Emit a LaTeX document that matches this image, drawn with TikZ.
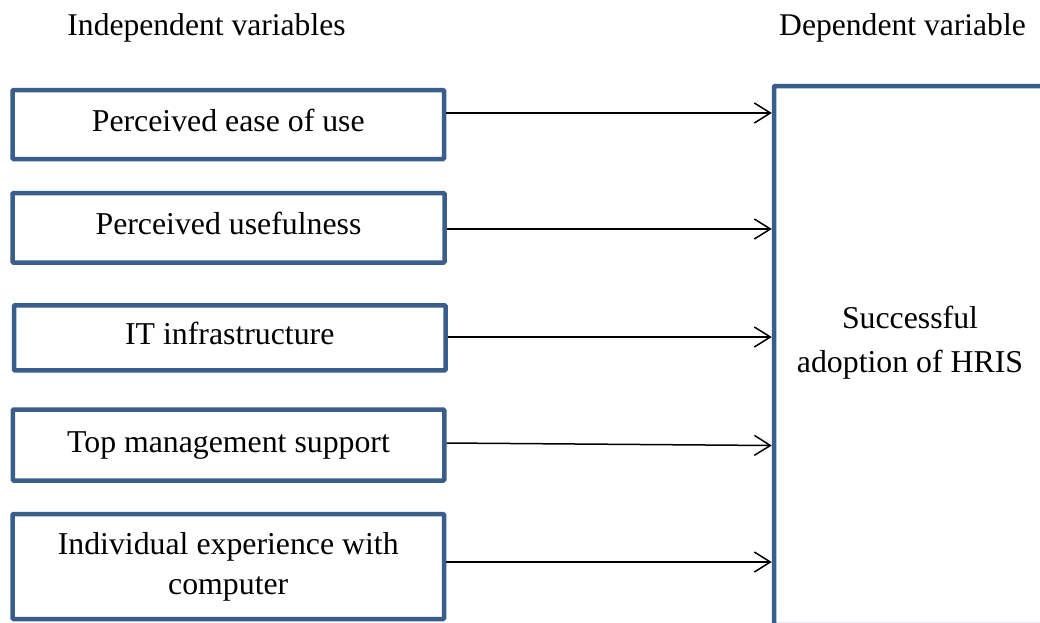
\documentclass[tikz,border=0pt]{standalone}
\usepackage{fontspec}
\setmainfont{Liberation Serif}
\usetikzlibrary{arrows.meta}
\definecolor{boxblue}{RGB}{58,94,140}
\tikzset{
  lbox/.style={draw=boxblue, line width=4.5pt, rounded corners=1pt, fill=white,
    inner sep=0pt, font=\fontsize{31.8}{40}\selectfont, align=center},
  single/.style={text height=21.8pt, text depth=7.8pt},
  head/.style={anchor=base, inner sep=0pt, font=\fontsize{31.6}{40}\selectfont},
  arr/.style={draw=black, line width=1.5pt, -{Straight Barb[length=16pt,width=20pt,line width=1.5pt]}}
}
\begin{document}
\begin{tikzpicture}[x=1pt,y=-1pt]
\clip (0,0) rectangle (1040,622);
\fill[white] (0,0) rectangle (1040,622);
% headings
\node[head] (hind) at (206.5,35) {Independent variables};
\node[head] (hdep) at (902.5,35) {Dependent variable};
% independent variable boxes
\node[lbox,single,minimum width=431.5pt,minimum height=69pt] (b1) at (228.25,124.5) {Perceived ease of use};
\node[lbox,single,minimum width=432pt,minimum height=69.5pt] (b2) at (228.5,227.75) {Perceived usefulness};
\node[lbox,single,minimum width=431.5pt,minimum height=65pt] (b3) at (229.75,337.9) {IT infrastructure};
\node[lbox,single,minimum width=431.5pt,minimum height=71pt] (b4) at (228.5,445) {Top management support};
\node[lbox,minimum width=431.5pt,minimum height=105pt] (b5) at (228.25,566.5) {Individual experience with\\computer};
% dependent variable box
\node[lbox,minimum width=272pt,minimum height=539pt] (dv) at (910,355.5) {};
\node[inner sep=0pt,align=center,font=\fontsize{31.8}{44}\selectfont] (hris) at (910,342.5) {Successful\\adoption of HRIS};
% arrows
\coordinate (y1) at (0,113);
\coordinate (y2) at (0,229);
\coordinate (y3) at (0,337);
\coordinate (y4a) at (0,443);
\coordinate (y4b) at (0,445.5);
\coordinate (y5) at (0,562);
\draw[arr] (b1.east |- y1) -- (dv.west |- y1);
\draw[arr] (b2.east |- y2) -- (dv.west |- y2);
\draw[arr] (b3.east |- y3) -- (dv.west |- y3);
\draw[arr] (b4.east |- y4a) -- (dv.west |- y4b);
\draw[arr] (b5.east |- y5) -- (dv.west |- y5);
\end{tikzpicture}
\end{document}
